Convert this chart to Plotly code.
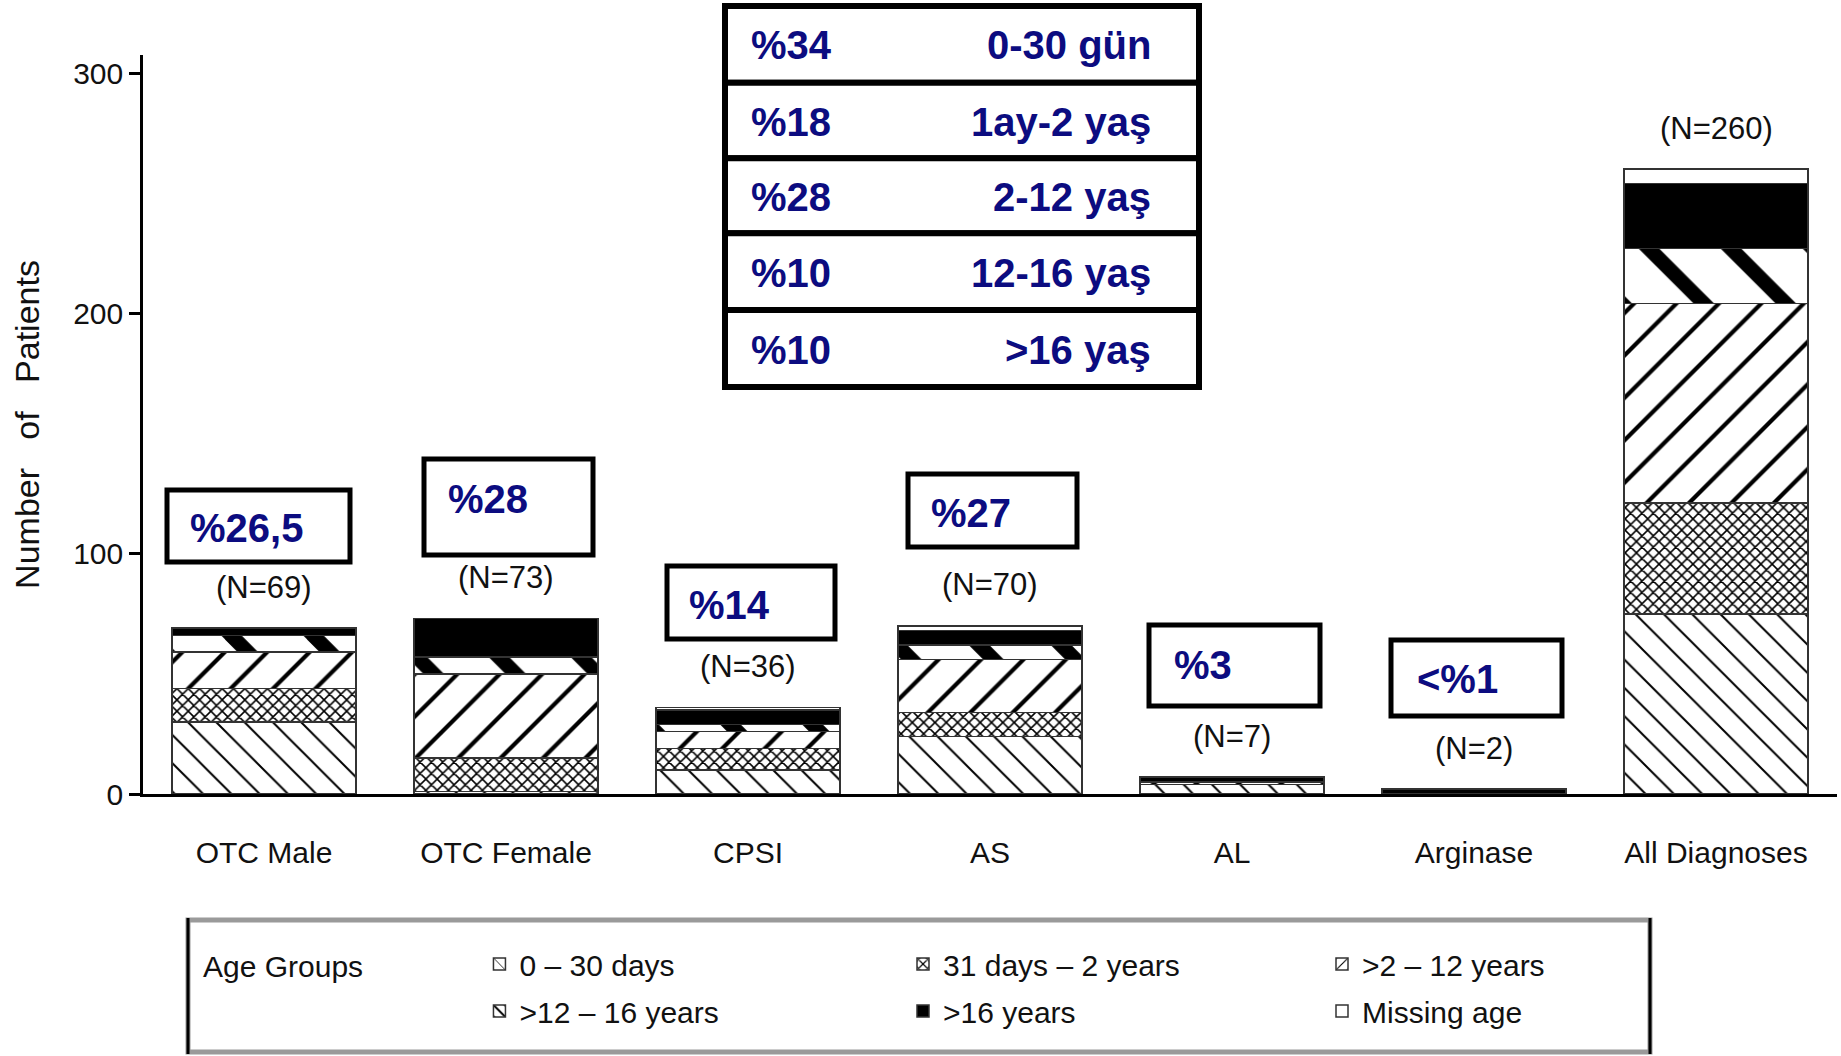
import plotly.graph_objects as go

categories = ["OTC Male", "OTC Female", "CPSI", "AS", "AL", "Arginase", "All Diagnoses"]
age_groups = ["0 – 30 days", "31 days – 2 years", ">2 – 12 years",
              ">12 – 16 years", ">16 years", "Missing age"]

d_0_30 = [30, 1, 10, 24, 4, 0, 75]
d_31_2y = [14, 14, 9, 10, 0, 0, 46]
d_2_12 = [15, 35, 7, 22, 1, 0, 83]
d_12_16 = [7, 7, 3, 6, 0, 0, 23]
d_16 = [3, 16, 6, 6, 2, 2, 27]
d_missing = [0, 0, 1, 2, 0, 0, 6]

box_labels = ["%26,5", "%28", "%14", "%27", "%3", "<%1"]
table_pcts = ["%34", "%18", "%28", "%10", "%10"]
table_ages = ["0-30 gün", "1ay-2 yaş", "2-12 yaş", "12-16 yaş", ">16 yaş"]

y_ticks = [0, 100, 200, 300]

W, H = 1841, 1056
L, R, T, B = 143, 1837, 55, 794   # plot area in window pixels

def px(x):
    return (x - L) / (R - L)

def py(y):
    return (B - y) / (B - T)

FONT = "Liberation Sans, Arial, sans-serif"
NAVY = "#0c0c80"
NB = "\u00a0"

series = [d_0_30, d_31_2y, d_2_12, d_12_16, d_16, d_missing]
styles = [
    dict(shape="\\", size=20, solidity=0.1),
    dict(shape="x", size=8, solidity=0.35),
    dict(shape="/", size=30, solidity=0.14),
    dict(shape="\\", size=58, solidity=0.25),
    None,
    None,
]
colors = ["white", "white", "white", "white", "black", "white"]
legend_ids = ["legend", "legend2", "legend3", "legend", "legend2", "legend3"]

fig = go.Figure()
for name, vals, st, col, lg in zip(age_groups, series, styles, colors, legend_ids):
    marker = dict(color=col, line=dict(color="#333333", width=1.5))
    if st is not None:
        marker["pattern"] = dict(shape=st["shape"], size=st["size"], solidity=st["solidity"],
                                 fgcolor="black", bgcolor="white", fgopacity=1,
                                 fillmode="overlay")
    fig.add_trace(go.Bar(x=categories, y=vals, name=name, marker=marker,
                         legend=lg, legendgroup=name))

totals = [sum(v) for v in zip(*series)]
for cat, tot in zip(categories, totals):
    fig.add_annotation(x=cat, y=tot, text=f"(N={tot})", showarrow=False,
                       yshift=41, font=dict(family=FONT, size=31, color="#111"))

# percentage boxes above bars (window pixel positions of the boxes)
box_px = [(167, 350, 490, 562, 188, 528),
          (424, 593, 459, 555, 446, 499),
          (667, 835, 566, 639, 687, 605),
          (908, 1077, 474, 547, 929, 513),
          (1149, 1320, 625, 706, 1172, 665),
          (1391, 1562, 640, 716, 1415, 679)]
for lab, (x0, x1, y0, y1, tx, ty) in zip(box_labels, box_px):
    fig.add_shape(type="rect", xref="paper", yref="paper",
                  x0=px(x0), x1=px(x1), y0=py(y1), y1=py(y0),
                  line=dict(color="black", width=5), fillcolor="white", layer="above")
    fig.add_annotation(xref="paper", yref="paper", x=px(tx), y=py(ty), text=f"<b>{lab}</b>",
                       xanchor="left", yanchor="middle", showarrow=False,
                       font=dict(family=FONT, size=40, color=NAVY))

# table at top
row_edges = [6, 82.7, 158.3, 233.3, 310, 387]
for i, (p, a) in enumerate(zip(table_pcts, table_ages)):
    y0, y1 = row_edges[i], row_edges[i + 1]
    fig.add_shape(type="rect", xref="paper", yref="paper",
                  x0=px(725), x1=px(1199), y0=py(y1), y1=py(y0),
                  line=dict(color="black", width=6), fillcolor="white", layer="above")
    yc = (y0 + y1) / 2 + 1
    fig.add_annotation(xref="paper", yref="paper", x=px(749), y=py(yc), text=f"<b>{p}</b>",
                       xanchor="left", yanchor="middle", showarrow=False,
                       font=dict(family=FONT, size=40, color=NAVY))
    fig.add_annotation(xref="paper", yref="paper", x=px(1153), y=py(yc), text=f"<b>{a}</b>",
                       xanchor="right", yanchor="middle", showarrow=False,
                       font=dict(family=FONT, size=40, color=NAVY))

# legend frame: grey top/bottom, black sides
fig.add_shape(type="rect", xref="paper", yref="paper",
              x0=px(188), x1=px(1650), y0=py(1052), y1=py(920),
              line=dict(color="#9a9a9a", width=5), fillcolor="white", layer="below")
for xl in (188, 1650):
    fig.add_shape(type="line", xref="paper", yref="paper",
                  x0=px(xl), x1=px(xl), y0=py(1054), y1=py(918),
                  line=dict(color="black", width=3))

leg_common = dict(orientation="v", traceorder="grouped", yanchor="top", xanchor="left",
                  borderwidth=0, bgcolor="rgba(0,0,0,0)", tracegroupgap=5,
                  font=dict(family=FONT, size=30, color="#111"))
LEG_TOP = 938

fig.update_layout(
    width=W, height=H,
    margin=dict(l=L, r=W - R, t=T, b=H - B, autoexpand=False),
    paper_bgcolor="white", plot_bgcolor="white",
    barmode="stack", bargap=0.24,
    font=dict(family=FONT, size=30, color="#111"),
    showlegend=True,
    legend=dict(x=px(201), y=py(LEG_TOP),
                title=dict(text="Age Groups" + NB * 13, side="left",
                           font=dict(family=FONT, size=30)),
                **leg_common),
    legend2=dict(x=px(903), y=py(LEG_TOP), **leg_common),
    legend3=dict(x=px(1322), y=py(LEG_TOP), **leg_common),
)
fig.update_xaxes(range=[-0.5, 6.5], showline=True, linecolor="black", linewidth=3,
                 showgrid=False, zeroline=False, ticks="", ticklabelstandoff=30,
                 tickfont=dict(family=FONT, size=30, color="#111"))
fig.update_yaxes(range=[0, 307.5], tickvals=y_ticks, showline=True, linecolor="black",
                 linewidth=2.5, showgrid=False, zeroline=False, ticks="outside",
                 ticklen=11, tickwidth=2.5, tickcolor="black",
                 tickfont=dict(family=FONT, size=30, color="#111"),
                 title=dict(text=f"Number{NB*3}of{NB*3}Patients", standoff=24,
                            font=dict(family=FONT, size=34, color="#111")))

fig.write_html("out.html", config={"displayModeBar": False},
               post_script="document.body.style.margin='0px';")
